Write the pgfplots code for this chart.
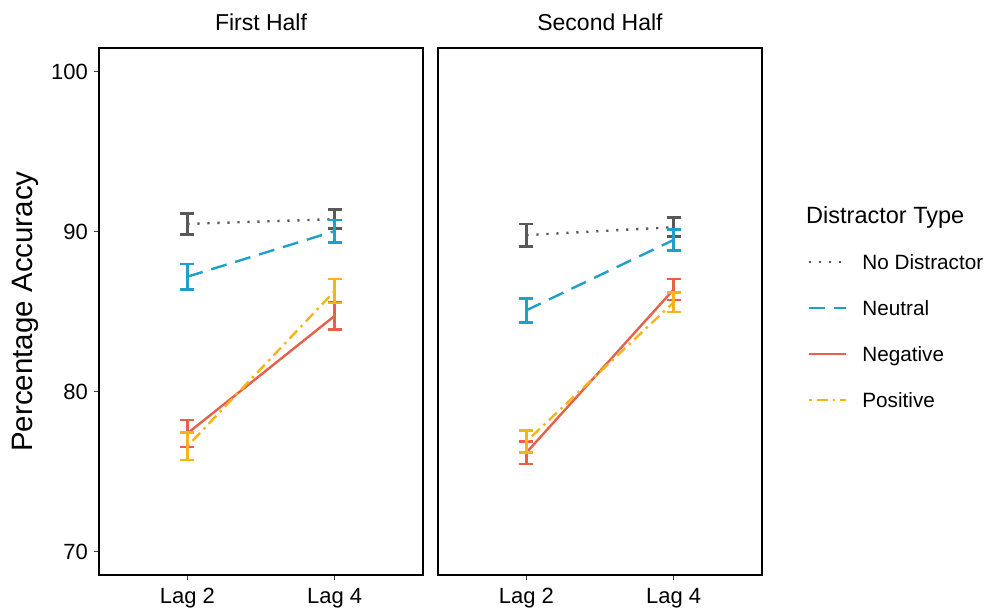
\documentclass[border=0pt]{standalone}
\usepackage{pgfplots}
\pgfplotsset{compat=1.18}
\usepackage{pgfplotstable}
\usepackage{fontspec}
\setmainfont{Liberation Sans}
\newfontfamily\plainsans{Liberation Sans}

\definecolor{cNo}{HTML}{595959}
\definecolor{cNeu}{HTML}{1FA0C8}
\definecolor{cNeg}{HTML}{E6604A}
\definecolor{cPos}{HTML}{F5B51A}

% First Half
\pgfplotstableread{
x y e
1 90.5 0.65
2 90.8 0.6
}\fNo
\pgfplotstableread{
x y e
1 87.2 0.8
2 90.05 0.7
}\fNeu
\pgfplotstableread{
x y e
1 77.4 0.85
2 84.75 0.85
}\fNeg
\pgfplotstableread{
x y e
1 76.6 0.85
2 86.3 0.75
}\fPos
% Second Half
\pgfplotstableread{
x y e
1 89.8 0.7
2 90.3 0.6
}\sNo
\pgfplotstableread{
x y e
1 85.1 0.75
2 89.5 0.65
}\sNeu
\pgfplotstableread{
x y e
1 76.2 0.7
2 86.4 0.65
}\sNeg
\pgfplotstableread{
x y e
1 76.9 0.7
2 85.6 0.6
}\sPos

\pgfplotsset{
  panel/.style={
    scale only axis, width=324pt, height=527pt,
    xmin=0.4, xmax=2.6, ymin=68.55, ymax=101.5,
    xtick={1,2}, xticklabels={Lag 2, Lag 4},
    ytick={70,80,90,100},
    tick align=outside, major tick length=5pt,
    xtick pos=bottom, ytick pos=left,
    tick style={line width=1pt, color=black!75},
    axis line style={line width=1.4pt, black},
    ticklabel style={font=\fontsize{22}{26}\selectfont},
    xticklabel style={anchor=north, inner sep=0pt, yshift=-8pt},
    yticklabel style={anchor=east, inner sep=0pt, xshift=-6pt},
    /pgf/number format/assume math mode=true,
    title style={font=\fontsize{23}{27}\selectfont, at={(0.5,1)}, anchor=south, yshift=11pt, inner sep=0pt},
    clip=false,
    legend image code/.code={\draw[#1] (0pt,0pt) -- (37pt,0pt);},
  },
  eb/.style={error bars/.cd, y dir=both, y explicit,
    error bar style={line width=2.6pt, solid},
    error mark options={rotate=90, mark size=7pt, line width=2.6pt, solid}},
  sNoD/.style={cNo, line width=2.4pt, dash pattern=on 2.2pt off 7.8pt, mark=none},
  sNeuD/.style={cNeu, line width=2.4pt, dash pattern=on 16pt off 9pt, mark=none},
  sNegD/.style={cNeg, line width=2.4pt, solid, mark=none},
  sPosD/.style={cPos, line width=2.4pt, dash pattern=on 2.5pt off 5pt on 11pt off 5pt, mark=none},
}

\begin{document}
\begin{tikzpicture}[x=1pt,y=1pt]
\useasboundingbox (0,0) rectangle (987,610);
\begin{axis}[panel, at={(99pt,35pt)}, anchor=south west, title={First Half},
  ylabel={Percentage Accuracy},
  ylabel style={font=\plainsans\fontsize{29.5}{34}\selectfont, at={(axis description cs:-0.228,0.5)}, anchor=center, inner sep=0pt}]
\addplot[sNoD, eb] table[x=x, y=y, y error=e] {\fNo};
\addplot[sNeuD, eb] table[x=x, y=y, y error=e] {\fNeu};
\addplot[sNegD, eb] table[x=x, y=y, y error=e] {\fNeg};
\addplot[sPosD, eb] table[x=x, y=y, y error=e] {\fPos};
\end{axis}
\begin{axis}[panel, at={(438pt,35pt)}, anchor=south west, title={Second Half},
  ytick=\empty,
  legend style={at={(axis description cs:1.142,0.616)}, anchor=north west,
    draw=none, fill=none, inner sep=0pt, outer sep=0pt,
    row sep=23pt, column sep=15pt,
    font=\fontsize{20.7}{25}\selectfont,
    nodes={inner sep=0pt, text height=19pt, text depth=4pt}},
  legend cell align=left]
\addplot[forget plot, sNoD, eb] table[x=x, y=y, y error=e] {\sNo};
\addplot[forget plot, sNeuD, eb] table[x=x, y=y, y error=e] {\sNeu};
\addplot[forget plot, sNegD, eb] table[x=x, y=y, y error=e] {\sNeg};
\addplot[forget plot, sPosD, eb] table[x=x, y=y, y error=e] {\sPos};
\addlegendimage{sNoD}
\addlegendentry{No Distractor}
\addlegendimage{sNeuD}
\addlegendentry{Neutral}
\addlegendimage{sNegD}
\addlegendentry{Negative}
\addlegendimage{sPosD}
\addlegendentry{Positive}
\end{axis}
\node[anchor=base west, inner sep=0pt, font=\fontsize{23.5}{28}\selectfont] at (806,386) {Distractor Type};
\end{tikzpicture}
\end{document}
